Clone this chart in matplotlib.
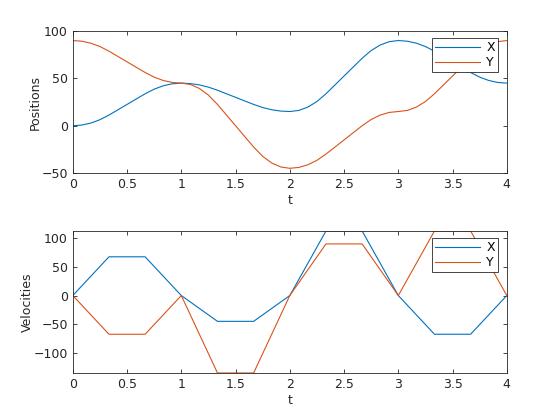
import matplotlib
matplotlib.use("Agg")
import matplotlib.pyplot as plt

# positions sampled every 1/12 s
t_pos = [i / 12 for i in range(49)]
x_pos = [
    0, 0.70, 2.81, 6.33, 11.25, 16.88, 22.5, 28.13, 33.75, 38.67, 42.19, 44.30,
    45, 44.53, 43.13, 40.78, 37.5, 33.75, 30, 26.25, 22.5, 19.22, 16.88, 15.47,
    15, 16.17, 19.69, 25.55, 33.75, 43.13, 52.5, 61.88, 71.25, 79.45, 85.31, 88.83,
    90, 89.30, 87.19, 83.67, 78.75, 73.13, 67.5, 61.88, 56.25, 51.33, 47.81, 45.70,
    45,
]
y_pos = [
    90, 89.30, 87.19, 83.67, 78.75, 73.13, 67.5, 61.88, 56.25, 51.33, 47.81, 45.70,
    45, 43.59, 39.38, 32.34, 22.5, 11.25, 0, -11.25, -22.5, -32.34, -39.38, -43.59,
    -45, -44.06, -41.25, -36.56, -30, -22.5, -15, -7.5, 0, 6.56, 11.25, 14.06,
    15, 16.17, 19.69, 25.55, 33.75, 43.13, 52.5, 61.88, 71.25, 79.45, 85.31, 88.83,
    90,
]

# velocities at every 1/3 s
t_vel = [i / 3 for i in range(13)]
x_vel = [0, 67.5, 67.5, 0, -45, -45, 0, 112.5, 112.5, 0, -67.5, -67.5, 0]
y_vel = [0, -67.5, -67.5, 0, -135, -135, 0, 90, 90, 0, 112.5, 112.5, 0]

blue = (0, 0.447, 0.741)
red = (0.85, 0.325, 0.098)
axcol = (0.15, 0.15, 0.15)

plt.rcParams["font.family"] = "DejaVu Sans"
plt.rcParams["font.size"] = 9

fig = plt.figure(figsize=(5.6, 4.2), dpi=100)
ax1 = fig.add_axes([0.130, 0.588, 0.775, 0.338])
ax2 = fig.add_axes([0.130, 0.112, 0.775, 0.338])


def style(ax, ylabel):
    ax.set_xlim(0, 4)
    ax.set_xticks([0, 0.5, 1, 1.5, 2, 2.5, 3, 3.5, 4])
    ax.set_xticklabels(["0", "0.5", "1", "1.5", "2", "2.5", "3", "3.5", "4"])
    ax.tick_params(direction="in", top=True, right=True, length=3,
                   colors=axcol, labelcolor=axcol, width=0.6)
    for s in ax.spines.values():
        s.set_color(axcol)
        s.set_linewidth(0.6)
    ax.set_xlabel("t", color=axcol, labelpad=2)
    ax.set_ylabel(ylabel, color=axcol, labelpad=0)
    leg = ax.legend(loc="upper right", bbox_to_anchor=(0.98, 0.95),
                    handlelength=3.6, fancybox=False, framealpha=1,
                    edgecolor=axcol, borderaxespad=0, borderpad=0.25,
                    labelspacing=0.15, handletextpad=0.5, fontsize=9)
    leg.get_frame().set_linewidth(0.6)


ax1.plot(t_pos, x_pos, color=blue, lw=0.8, label="X")
ax1.plot(t_pos, y_pos, color=red, lw=0.8, label="Y")
ax1.set_ylim(-50, 100)
ax1.set_yticks([-50, 0, 50, 100])
style(ax1, "Positions")

ax2.plot(t_vel, x_vel, color=blue, lw=0.8, label="X")
ax2.plot(t_vel, y_vel, color=red, lw=0.8, label="Y")
ax2.set_ylim(-135, 112.5)
ax2.set_yticks([-100, -50, 0, 50, 100])
style(ax2, "Velocities")

fig.savefig("out.png", dpi=100)
